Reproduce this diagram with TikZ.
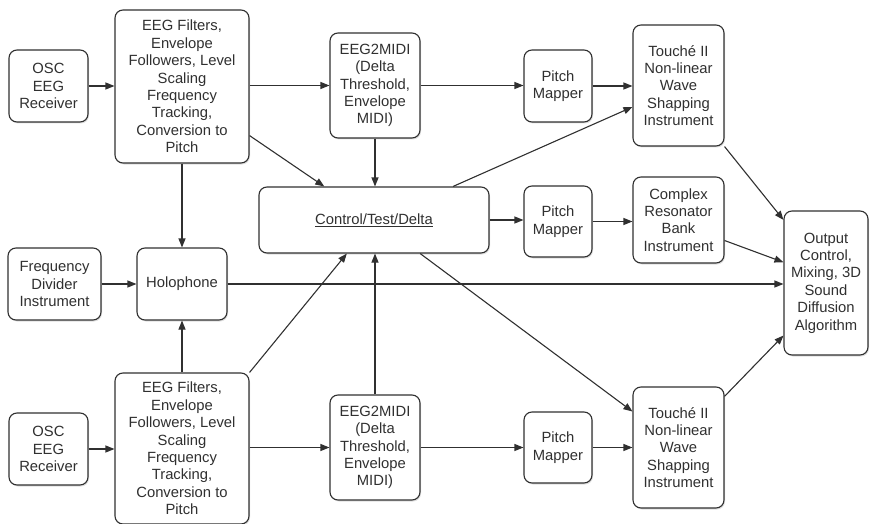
\documentclass[tikz,border=0pt]{standalone}
\usepackage{fontspec}
\setmainfont{Liberation Sans}
\usetikzlibrary{arrows.meta,shadows}
\definecolor{ink}{HTML}{303030}
\tikzset{
  box/.style={draw=ink, line width=1.1pt, rounded corners=8pt, fill=white,
    drop shadow={shadow xshift=1pt, shadow yshift=-1.5pt, opacity=0.25},
    align=center, inner sep=0pt, text=ink,
    font=\fontsize{14.8}{17.4}\selectfont},
  arr/.style={draw=ink, line width=1.1pt, -{Triangle[length=9pt,width=7pt]}},
  ln/.style={draw=ink, line width=1.1pt}
}
\begin{document}
\begin{tikzpicture}[x=1pt,y=-1pt]
\useasboundingbox (0,0) rectangle (870,524);
% top row
\node[box, minimum width=79pt, minimum height=72pt] (o1) at (48.5,86) {OSC\\EEG\\Receiver};
\node[box, minimum width=134pt, minimum height=153pt] (f1) at (182,86.5) {EEG Filters,\\Envelope\\Followers, Level\\Scaling\\Frequency\\Tracking,\\Conversion to\\Pitch};
\node[box, minimum width=90pt, minimum height=105pt] (m1) at (375,85.5) {EEG2MIDI\\(Delta\\Threshold,\\Envelope\\MIDI)};
\node[box, minimum width=68pt, minimum height=72pt] (p1) at (558,86) {Pitch\\Mapper};
\node[box, minimum width=91pt, minimum height=121pt] (t1) at (678.5,85.5) {Touch\'e II\\Non-linear\\Wave\\Shapping\\Instrument};
% middle row
\node[box, minimum width=230pt, minimum height=66pt] (ctd) at (374,220) {\underline{Control/Test/Delta}};
\node[box, minimum width=68pt, minimum height=71pt] (p2) at (558,221.5) {Pitch\\Mapper};
\node[box, minimum width=91pt, minimum height=86pt] (c) at (678.5,220) {Complex\\Resonator\\Bank\\Instrument};
\node[box, minimum width=93pt, minimum height=72pt] (fd) at (54.5,284) {Frequency\\Divider\\Instrument};
\node[box, minimum width=90pt, minimum height=72pt] (holo) at (182,284) {Holophone};
\node[box, minimum width=84pt, minimum height=144pt] (out) at (826,283) {Output\\Control,\\Mixing, 3D\\Sound\\Diffusion\\Algorithm};
% bottom row
\node[box, minimum width=79pt, minimum height=72pt] (o2) at (48.5,449) {OSC\\EEG\\Receiver};
\node[box, minimum width=134pt, minimum height=151pt] (f2) at (182,448.5) {EEG Filters,\\Envelope\\Followers, Level\\Scaling\\Frequency\\Tracking,\\Conversion to\\Pitch};
\node[box, minimum width=90pt, minimum height=105pt] (m2) at (375,447.5) {EEG2MIDI\\(Delta\\Threshold,\\Envelope\\MIDI)};
\node[box, minimum width=68pt, minimum height=71pt] (p3) at (558,447.5) {Pitch\\Mapper};
\node[box, minimum width=91pt, minimum height=121pt] (t2) at (678.5,447.5) {Touch\'e II\\Non-linear\\Wave\\Shapping\\Instrument};
% top chain
\draw[arr] (o1.east) -- (f1.west |- o1.east);
\draw[arr] (f1.east |- m1.west) -- (m1.west);
\draw[arr] (m1.east) -- (p1.west |- m1.east);
\draw[arr] (p1.east) -- (t1.west |- p1.east);
% into control
\draw[arr] (f1.-36) -- (ctd.146);
\draw[arr] (m1.south) -- (ctd.north -| m1.south);
\draw[arr] (ctd.23.5) -- (t1.205);
\draw[arr] (f1.south) -- (holo.north);
\draw[arr] (ctd.east) -- (p2.west |- ctd.east);
\draw[arr] (p2.east) -- (c.west |- p2.east);
\draw[arr] (fd.east) -- (holo.west |- fd.east);
\draw[arr] (holo.east) -- (out.west |- holo.east);
% bottom
\draw[arr] (f2.north) -- (holo.south);
\draw[arr] (f2.north east) -- (ctd.231);
\draw[arr] (m2.north) -- (ctd.south -| m2.north);
\draw[arr] (ctd.-36) -- (t2.142);
\draw[arr] (o2.east) -- (f2.west |- o2.east);
\draw[arr] (f2.east |- m2.west) -- (m2.west);
\draw[arr] (m2.east) -- (p3.west |- m2.east);
\draw[arr] (p3.east) -- (t2.west |- p3.east);
% to output
\draw[arr] (t1.south east) -- (out.124.5);
\draw[arr] (c.-24) -- (out.154.5);
\draw[arr] (t2.48) -- (out.231);
\end{tikzpicture}
\end{document}
